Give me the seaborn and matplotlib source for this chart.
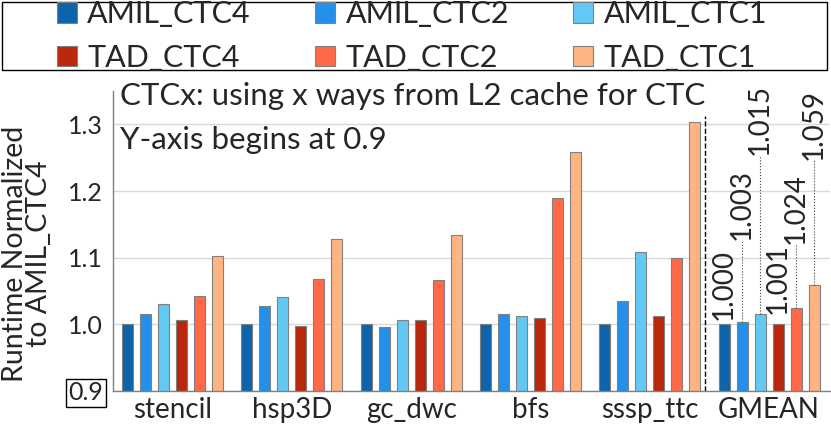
import numpy as np
import pandas as pd
import matplotlib
matplotlib.use("Agg")
import matplotlib.pyplot as plt
from matplotlib.patches import Rectangle
import seaborn as sns

# data
benchmarks = ["stencil", "hsp3D", "gc_dwc", "bfs", "sssp_ttc", "GMEAN"]
configs = ["AMIL_CTC4", "AMIL_CTC2", "AMIL_CTC1", "TAD_CTC4", "TAD_CTC2", "TAD_CTC1"]
amil_ctc4 = [1.000, 1.000, 1.000, 1.000, 1.000, 1.000]
amil_ctc2 = [1.016, 1.027, 0.996, 1.016, 1.035, 1.003]
amil_ctc1 = [1.031, 1.041, 1.006, 1.013, 1.109, 1.015]
tad_ctc4 = [1.007, 0.997, 1.006, 1.009, 1.012, 1.001]
tad_ctc2 = [1.042, 1.068, 1.066, 1.190, 1.099, 1.024]
tad_ctc1 = [1.103, 1.128, 1.134, 1.259, 1.303, 1.059]
gmean_labels = ["1.000", "1.003", "1.015", "1.001", "1.024", "1.059"]
# where each GMEAN label sits (bottom of rotated text, y units)
gmean_label_y = [1.006, 1.126, 1.254, 1.016, 1.121, 1.246]

colors = ["#0E64AA", "#2391EB", "#64C8F5", "#B9280A", "#FF6946", "#FFB482"]

series = [amil_ctc4, amil_ctc2, amil_ctc1, tad_ctc4, tad_ctc2, tad_ctc1]
rows = []
for cfg, vals in zip(configs, series):
    for b, v in zip(benchmarks, vals):
        rows.append({"bench": b, "config": cfg, "value": v})
df = pd.DataFrame(rows)

sns.set_style("white")
plt.rcParams["font.family"] = ["Lato", "DejaVu Sans"]

fig = plt.figure(figsize=(8.31, 4.28), dpi=100)
ax = fig.add_axes([113 / 831, 37 / 428, 717 / 831, 300 / 428])

sns.barplot(data=df, x="bench", y="value", hue="config", hue_order=configs,
            palette=colors, saturation=1, width=0.905, gap=0.39,
            edgecolor="#808080", linewidth=0.8, ax=ax, legend=True,
            errorbar=None)

ax.set_ylim(0.9, 1.35)
ax.set_xlim(-0.5, 5.51)
ax.set_yticks([0.9, 1.0, 1.1, 1.2, 1.3])
ax.set_yticklabels(["0.9", "1.0", "1.1", "1.2", "1.3"])
ax.tick_params(axis="y", length=0, pad=7, labelsize=18)
ax.tick_params(axis="x", length=0, pad=4, labelsize=20)
ax.set_xlabel("")
ax.set_ylabel("")
ax.yaxis.grid(True, color="#d9d9d9", linewidth=1)
ax.set_axisbelow(True)
for s in ["top", "right"]:
    ax.spines[s].set_visible(False)
for s in ["left", "bottom"]:
    ax.spines[s].set_color("#808080")
    ax.spines[s].set_linewidth(1)

ax.get_yticklabels()[0].set_bbox(dict(facecolor="white", edgecolor="black",
                                      linewidth=1, pad=2))

# separator before GMEAN
ax.plot([4.466, 4.466], [0.9, 1.313], color="black", linestyle="--", linewidth=1)

# GMEAN value labels with leader lines
slot = 0.905 / 6
gi = benchmarks.index("GMEAN")
for k, (vals, lab, ly) in enumerate(zip(series, gmean_labels, gmean_label_y)):
    xc = gi - 0.905 / 2 + slot * (k + 0.5)
    top = vals[gi]
    if ly - top > 0.02:
        ax.plot([xc, xc], [top, ly], color="#404040", linestyle=":", linewidth=0.8)
    ax.text(xc, ly, lab, rotation=90, ha="center", va="bottom", fontsize=20)

ax.text(0.0098, 0.983, "CTCx: using x ways from L2 cache for CTC",
        transform=ax.transAxes, ha="left", va="center", fontsize=22.5)
ax.text(0.0098, 0.837, "Y-axis begins at 0.9",
        transform=ax.transAxes, ha="left", va="center", fontsize=22.5)

fig.text(27 / 831, 1 - 254 / 428, "Runtime Normalized\nto AMIL_CTC4",
         rotation=90, ha="center", va="center", fontsize=20.5, linespacing=0.9)

# legend on top, framed
handles, labels = ax.get_legend_handles_labels()
ax.get_legend().remove()
order = [0, 3, 1, 4, 2, 5]
fig.legend([handles[i] for i in order], [labels[i] for i in order],
           loc="center", bbox_to_anchor=(412 / 831, 1 - 36 / 428), ncol=3,
           frameon=False, fontsize=22, handlelength=0.65, handleheight=0.65,
           handletextpad=0.35, columnspacing=2.1, labelspacing=0.5,
           borderpad=0)
fig.patches.append(Rectangle((2 / 831, 1 - 70 / 428), 825 / 831, 68 / 428,
                             transform=fig.transFigure, fill=False,
                             edgecolor="black", linewidth=1))

fig.savefig("out.png", dpi=100)
